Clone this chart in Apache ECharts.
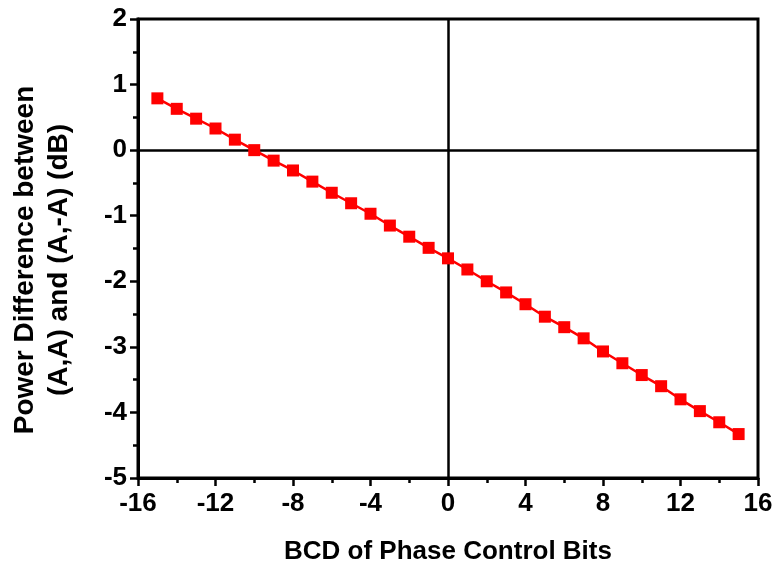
<!DOCTYPE html>
<html>
<head>
<meta charset="utf-8">
<script src="https://cdn.jsdelivr.net/npm/echarts@6/dist/echarts.min.js"></script>
<style>html,body{margin:0;padding:0;background:#fff}#c{width:774px;height:567px}</style>
</head>
<body>
<div id="c"></div>
<script>
var xValues = [-15,-14,-13,-12,-11,-10,-9,-8,-7,-6,-5,-4,-3,-2,-1,0,1,2,3,4,5,6,7,8,9,10,11,12,13,14,15];
var yValues = [0.79,0.63,0.48,0.33,0.16,0.0,-0.16,-0.31,-0.48,-0.65,-0.81,-0.97,-1.15,-1.32,-1.49,-1.65,-1.82,-2.0,-2.17,-2.35,-2.54,-2.70,-2.87,-3.07,-3.25,-3.43,-3.60,-3.80,-3.98,-4.15,-4.33];
var xAxisTitle = 'BCD of Phase Control Bits';
var yAxisTitle = 'Power Difference between\n(A,A) and (A,-A) (dB)';

var data = xValues.map(function (x, i) { return [x, yValues[i]]; });
var font = 'Liberation Sans, Arial, sans-serif';
var chart = echarts.init(document.getElementById('c'));
chart.setOption({
  animation: false,
  backgroundColor: '#fff',
  grid: { left: 138, right: 16, top: 19, bottom: 89, containLabel: false, outerBoundsMode: 'none',
          show: true, borderColor: '#000', borderWidth: 3, backgroundColor: 'transparent' },
  xAxis: {
    type: 'value', min: -16, max: 16, interval: 4,
    name: xAxisTitle, nameLocation: 'middle', nameGap: 61,
    nameTextStyle: { fontFamily: font, fontWeight: 'bold', fontSize: 26, color: '#000' },
    axisLine: { show: true, onZero: false, lineStyle: { color: '#000', width: 3 } },
    axisTick: { show: true, inside: false, length: 8, lineStyle: { color: '#000', width: 2.5 } },
    minorTick: { show: true, splitNumber: 2, length: 5, lineStyle: { color: '#000', width: 2.5 } },
    axisLabel: { fontFamily: font, fontWeight: 'bold', fontSize: 26, color: '#000', margin: 13 },
    splitLine: { show: false }
  },
  yAxis: {
    type: 'value', min: -5, max: 2, interval: 1,
    name: yAxisTitle, nameLocation: 'middle', nameGap: 62,
    nameTextStyle: { fontFamily: font, fontWeight: 'bold', fontSize: 28, color: '#000', lineHeight: 34, padding: [0, 23, 0, 0] },
    axisLine: { show: true, onZero: false, lineStyle: { color: '#000', width: 3 } },
    axisTick: { show: true, inside: false, length: 8, lineStyle: { color: '#000', width: 2.5 } },
    minorTick: { show: true, splitNumber: 2, length: 5, lineStyle: { color: '#000', width: 2.5 } },
    axisLabel: { fontFamily: font, fontWeight: 'bold', fontSize: 26, color: '#000', margin: 11 },
    splitLine: { show: false }
  },
  series: [{
    type: 'line',
    data: data,
    symbol: 'rect',
    symbolSize: 12,
    itemStyle: { color: '#ff0000' },
    lineStyle: { color: '#ff0000', width: 2.5 },
    z: 3,
    markLine: {
      silent: true,
      symbol: 'none',
      label: { show: false },
      lineStyle: { color: '#000', width: 2.5, type: 'solid' },
      data: [{ xAxis: 0 }, { yAxis: 0 }],
      z: 1
    }
  }]
});
</script>
</body>
</html>
